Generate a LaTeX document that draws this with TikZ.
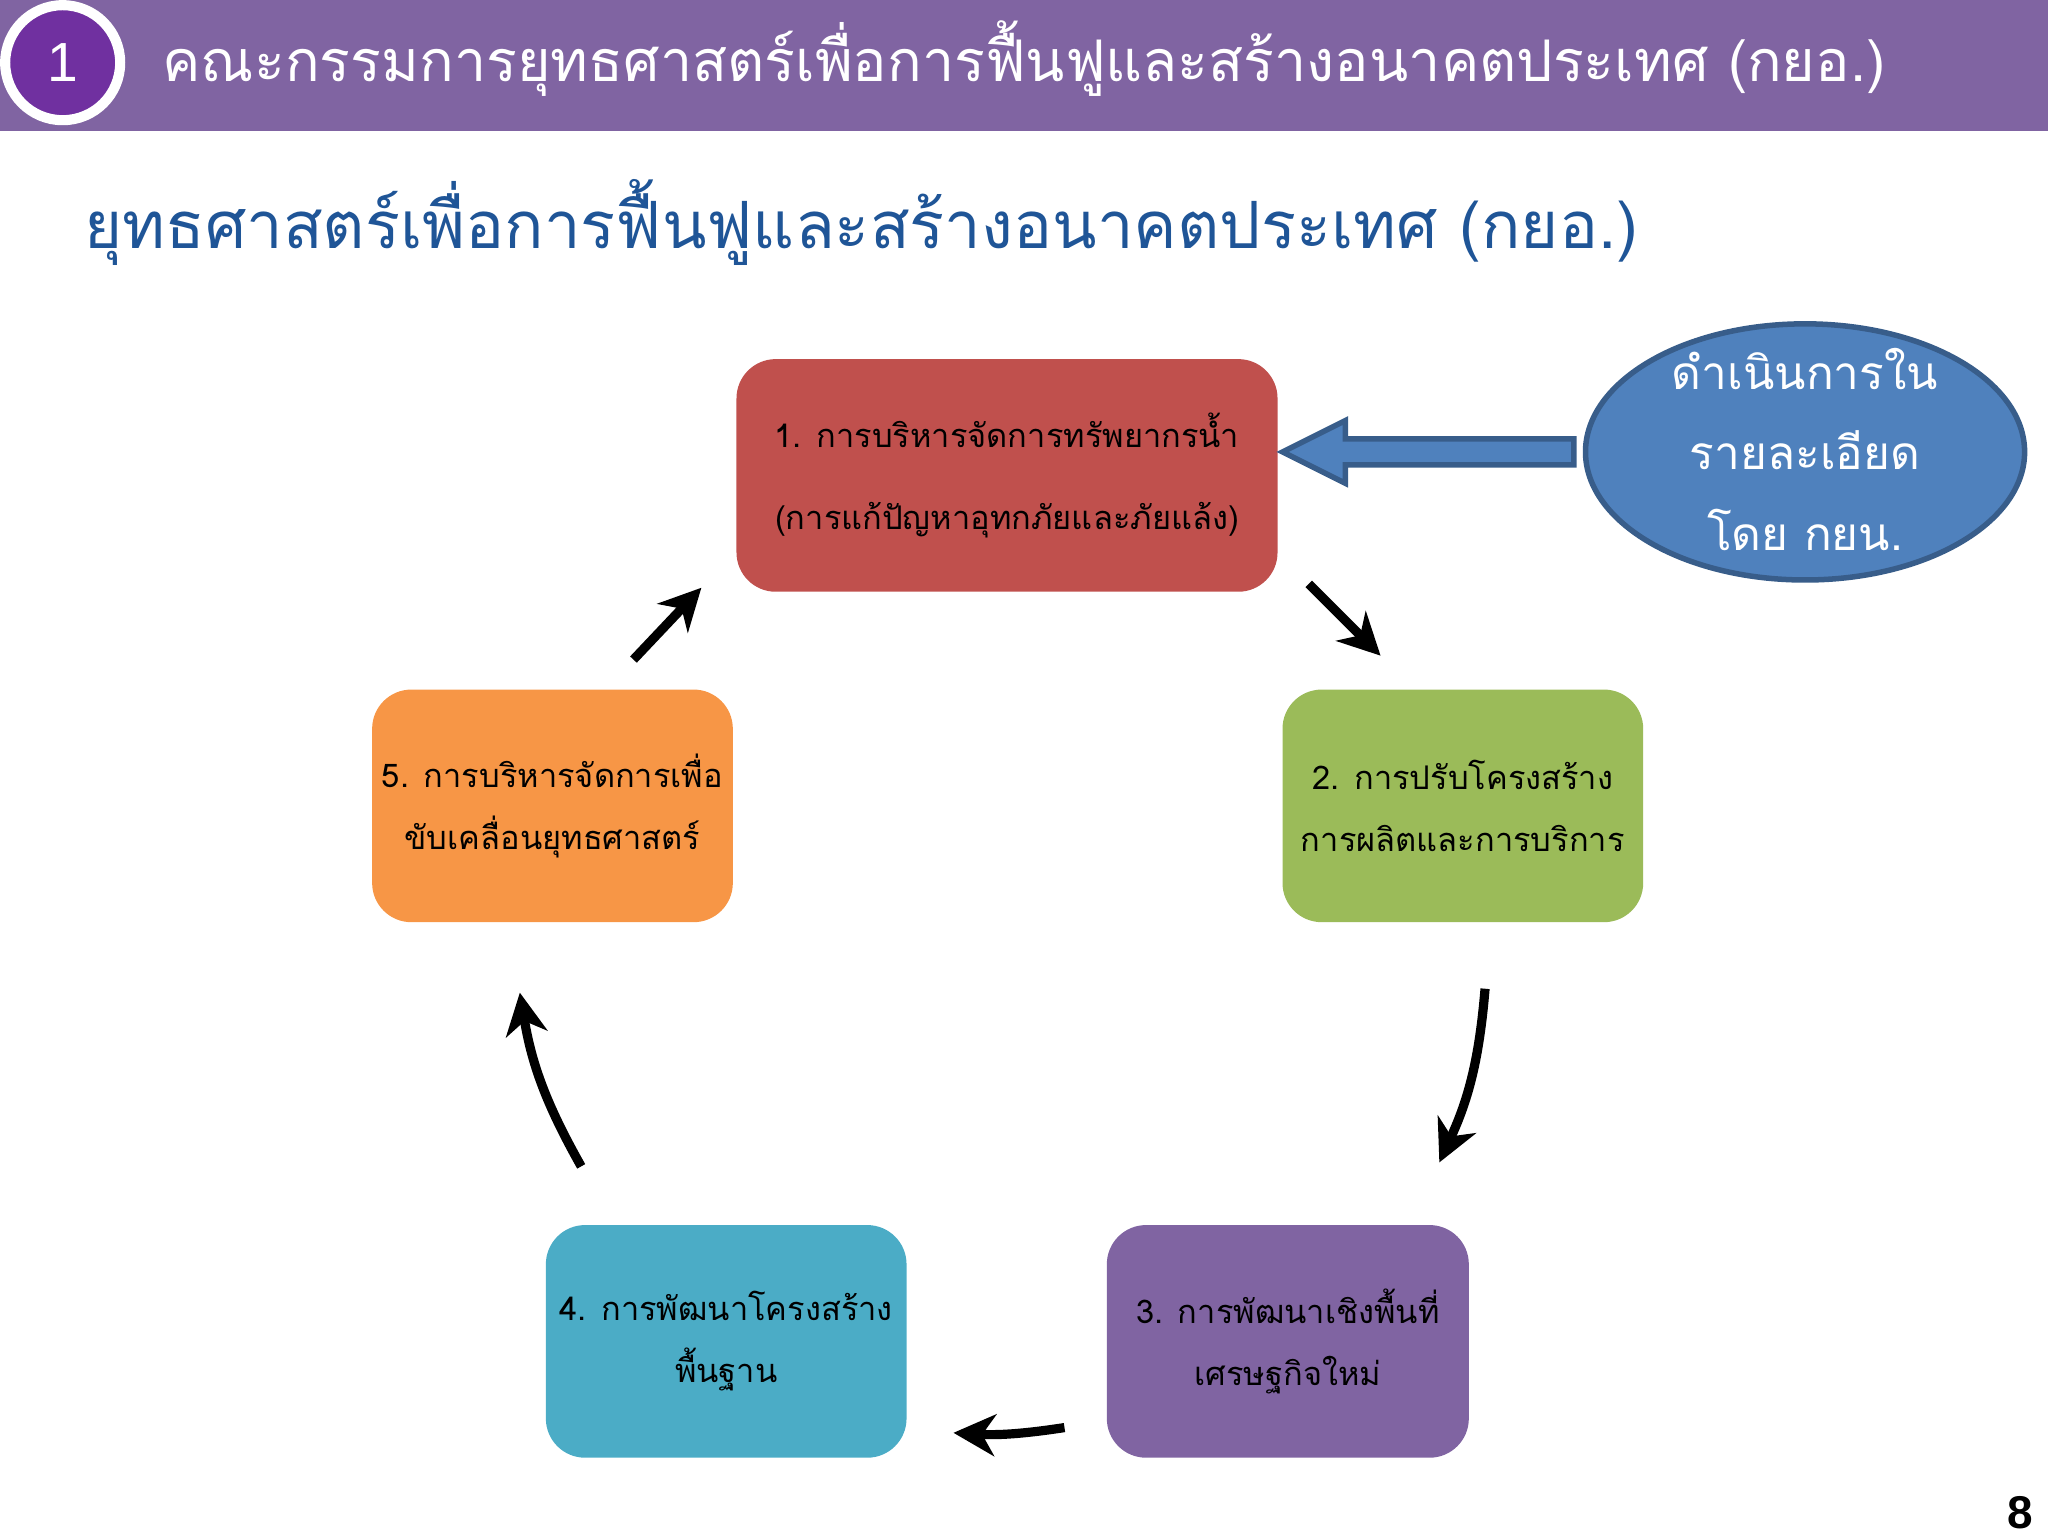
\documentclass[tikz,border=0pt]{standalone}
\usepackage{fontspec}
\setmainfont{Liberation Sans}
\newfontfamily\thai[Script=Thai]{Loma}
\usetikzlibrary{arrows.meta}
\definecolor{barpurple}{HTML}{8064A2}
\definecolor{circpurple}{HTML}{7030A0}
\definecolor{titleblue}{HTML}{1F5597}
\definecolor{bred}{HTML}{C0504D}
\definecolor{bgreen}{HTML}{9BBB59}
\definecolor{bteal}{HTML}{4BACC6}
\definecolor{borange}{HTML}{F79646}
\definecolor{bblue}{HTML}{4F81BD}
\definecolor{dblue}{HTML}{385D8A}
\begin{document}
\begin{tikzpicture}[x=0.01cm,y=-0.01cm,
  box/.style={rounded corners=0.3cm,text=black,align=center,inner sep=0pt,font=\thai\fontsize{7.1}{13.5}\selectfont},
  cyc/.style={line width=2pt,-{Stealth[length=0.32cm,width=0.32cm,inset=0.1cm]}}]
\useasboundingbox (0,0) rectangle (1568,1176);
\fill[barpurple] (0,0) rectangle (1568,100);
\node[circle,fill=circpurple,draw=white,line width=2.2pt,minimum size=0.88cm,text=white,font=\fontsize{12}{14}\selectfont] (num) at (48,48) {1};
\node[anchor=west,text=white,font=\thai\fontsize{12.5}{15}\selectfont] (hdr) at (112,45) {คณะกรรมการยุทธศาสตร์เพื่อการฟื้นฟูและสร้างอนาคตประเทศ (กยอ.)};
\node[anchor=west,text=titleblue,font=\thai\fontsize{14.2}{18}\selectfont] (ttl) at (52,170) {ยุทธศาสตร์เพื่อการฟื้นฟูและสร้างอนาคตประเทศ (กยอ.)};
\node[box,fill=bred,minimum width=4.14cm,minimum height=1.78cm] (b1) at (771,364) {1. การบริหารจัดการทรัพยากรน้ำ\\[0.15cm](การแก้ปัญหาอุทกภัยและภัยแล้ง)};
\node[box,fill=bgreen,minimum width=2.76cm,minimum height=1.78cm] (b2) at (1120,617) {2. การปรับโครงสร้าง\\การผลิตและการบริการ};
\node[box,fill=barpurple,minimum width=2.77cm,minimum height=1.78cm] (b3) at (986,1027) {3. การพัฒนาเชิงพื้นที่\\เศรษฐกิจใหม่};
\node[box,fill=bteal,minimum width=2.76cm,minimum height=1.78cm] (b4) at (556,1027) {4. การพัฒนาโครงสร้าง\\พื้นฐาน};
\node[box,fill=borange,minimum width=2.76cm,minimum height=1.78cm] (b5) at (423,617) {5. การบริหารจัดการเพื่อ\\ขับเคลื่อนยุทธศาสตร์};
\draw[fill=bblue,draw=dblue,line width=1.2pt] (1382,346) ellipse (1.68cm and 0.98cm);
\node[text=white,align=center,font=\thai\fontsize{10}{17.5}\selectfont] (ell) at (1382,344) {ดำเนินการใน\\รายละเอียด\\โดย กยน.};
\draw[fill=bblue,draw=dblue,line width=1.2pt] (1205,336) -- (1030,336) -- (1030,322) -- (982,346) -- (1030,370) -- (1030,356) -- (1205,356) -- cycle;
\coordinate (a1s) at (1002,447); \coordinate (a1e) at (1057,502);
\coordinate (a2s) at (1137,757); \coordinate (a2e) at (1102,890);
\coordinate (a3s) at (815,1093); \coordinate (a3e) at (730,1097);
\coordinate (a4s) at (445,893); \coordinate (a4e) at (398,760);
\coordinate (a5s) at (485,505); \coordinate (a5e) at (537,450);
\draw[cyc] (a1s) -- (a1e);
\draw[cyc] (a2s) to[bend left=10] (a2e);
\draw[cyc] (a3s) to[bend left=6] (a3e);
\draw[cyc] (a4s) to[bend left=10] (a4e);
\draw[cyc] (a5s) -- (a5e);
\node[font=\bfseries\fontsize{10}{11}\selectfont] (pg) at (1547,1158) {8};
\end{tikzpicture}
\end{document}
